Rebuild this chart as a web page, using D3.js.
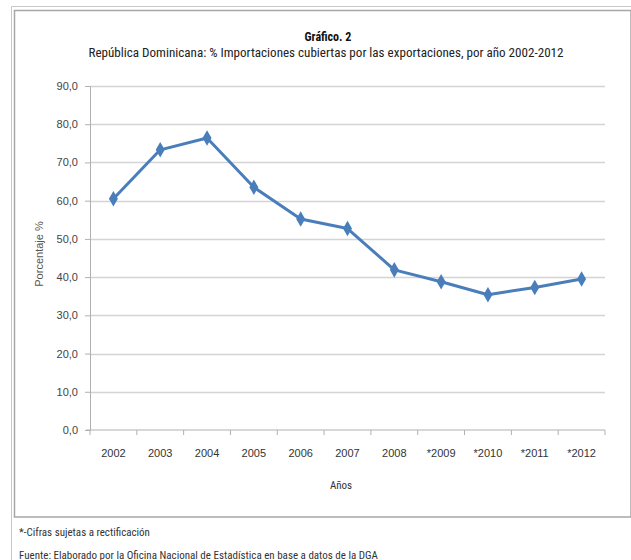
<!DOCTYPE html>
<html>
<head>
<meta charset="utf-8">
<script src="https://cdn.jsdelivr.net/npm/d3@7"></script>
<style>
  body { margin: 0; background: #fff; }
  svg { display: block; }
  .narrow { font-family: "Liberation Sans Narrow", "Arial Narrow", "Roboto Condensed", sans-serif; }
</style>
</head>
<body>
<div id="chart"></div>
<script>
// data
var years = ["2002", "2003", "2004", "2005", "2006", "2007", "2008", "*2009", "*2010", "*2011", "*2012"];
var cobertura = [60.5, 73.3, 76.4, 63.5, 55.2, 52.7, 41.9, 38.8, 35.4, 37.3, 39.5];
var yTicks = [0, 10, 20, 30, 40, 50, 60, 70, 80, 90];

var W = 631, H = 560;
var margin = {top: 86, right: 26, bottom: 130, left: 90},
    width = W - margin.left - margin.right,
    height = H - margin.top - margin.bottom;

var root = d3.select("#chart").append("svg")
    .attr("width", W)
    .attr("height", H);

// frames
root.append("path")
  .attr("d", "M11.5," + H + "V6.5H" + W)
  .attr("fill", "none").attr("stroke", "#c8c8c8").attr("stroke-width", 1);
root.append("path")
  .attr("d", "M" + W + ",517V10.5H14.5V517H" + W)
  .attr("fill", "none").attr("stroke", "#a6a6a6").attr("stroke-width", 1.5);

// titles
root.append("text").attr("class", "narrow")
  .attr("x", 328).attr("y", 41)
  .attr("text-anchor", "middle")
  .style("font-size", "12px").style("font-weight", "bold").attr("fill", "#111")
  .text("Gráfico. 2");
root.append("text").attr("class", "narrow")
  .attr("x", 326).attr("y", 57)
  .attr("text-anchor", "middle")
  .attr("textLength", 475).attr("lengthAdjust", "spacingAndGlyphs")
  .style("font-size", "12.5px").attr("fill", "#222")
  .text("República Dominicana: % Importaciones cubiertas por las exportaciones, por año 2002-2012");

var svg = root.append("g")
  .attr("transform", "translate(" + margin.left + "," + margin.top + ")");

var x = d3.scaleBand().domain(years).range([0, width]);
var y = d3.scaleLinear().domain([0, 90]).range([height, 0]);

// gridlines
svg.append("g")
  .selectAll("line").data(yTicks.slice(1)).join("line")
  .attr("x1", 0).attr("x2", width)
  .attr("y1", function(d) { return Math.round(y(d)) + 0.5; })
  .attr("y2", function(d) { return Math.round(y(d)) + 0.5; })
  .attr("stroke", "#d4d4d4").attr("stroke-width", 1.5);

// y axis
var yAxis = svg.append("g")
  .call(d3.axisLeft(y).tickValues(yTicks).tickSize(5).tickPadding(7)
    .tickFormat(function(d) { return d3.format(".1f")(d).replace(".", ","); }));
yAxis.selectAll("text")
  .style("font-family", "'Liberation Sans', Arial, sans-serif")
  .style("font-size", "11px").attr("fill", "#444");
yAxis.selectAll("line").attr("stroke", "#b0b0b0");
yAxis.select(".domain").attr("stroke", "#b0b0b0");

// x axis
var xAxisG = svg.append("g").attr("transform", "translate(0," + height + ")");
xAxisG.append("line")
  .attr("x1", -4).attr("x2", width)
  .attr("stroke", "#b0b0b0");
xAxisG.selectAll(".tk").data(years.concat(["end"])).join("line")
  .attr("class", "tk")
  .attr("x1", function(d, i) { return i * x.step(); })
  .attr("x2", function(d, i) { return i * x.step(); })
  .attr("y1", 0).attr("y2", 5)
  .attr("stroke", "#b0b0b0");
xAxisG.selectAll(".lbl").data(years).join("text")
  .attr("class", "lbl")
  .attr("x", function(d) { return x(d) + x.bandwidth() / 2; })
  .attr("y", 27)
  .attr("text-anchor", "middle")
  .style("font-family", "'Liberation Sans', Arial, sans-serif")
  .style("font-size", "11px").attr("fill", "#333")
  .text(function(d) { return d; });

// axis titles
root.append("text").attr("class", "narrow")
  .attr("x", 341).attr("y", 489)
  .attr("text-anchor", "middle")
  .style("font-size", "11px").attr("fill", "#333")
  .text("Años");
root.append("text")
  .attr("transform", "translate(43,254) rotate(-90)")
  .attr("text-anchor", "middle")
  .style("font-family", "'Liberation Sans', Arial, sans-serif")
  .style("font-size", "11px").attr("fill", "#555")
  .text("Porcentaje %");

// line
var pts = years.map(function(d, i) { return {year: d, v: cobertura[i]}; });
var line = d3.line()
  .x(function(d) { return x(d.year) + x.bandwidth() / 2; })
  .y(function(d) { return y(d.v); });
svg.append("path").datum(pts)
  .attr("d", line)
  .attr("fill", "none")
  .attr("stroke", "#4a7ebb")
  .attr("stroke-width", 3)
  .attr("stroke-linejoin", "round");

svg.selectAll(".mk").data(pts).join("path")
  .attr("class", "mk")
  .attr("d", d3.symbol().type(d3.symbolDiamond).size(70))
  .attr("transform", function(d) {
    return "translate(" + (x(d.year) + x.bandwidth() / 2) + "," + y(d.v) + ")";
  })
  .attr("fill", "#4a7ebb");

// footnotes
root.append("text").attr("class", "narrow")
  .attr("x", 19).attr("y", 536)
  .style("font-size", "11px").attr("fill", "#333")
  .text("*-Cifras sujetas a rectificación");
root.append("text").attr("class", "narrow")
  .attr("x", 19).attr("y", 559)
  .style("font-size", "11px").attr("fill", "#333")
  .text("Fuente: Elaborado por la Oficina Nacional de Estadística en base a datos de la DGA");
</script>
</body>
</html>
